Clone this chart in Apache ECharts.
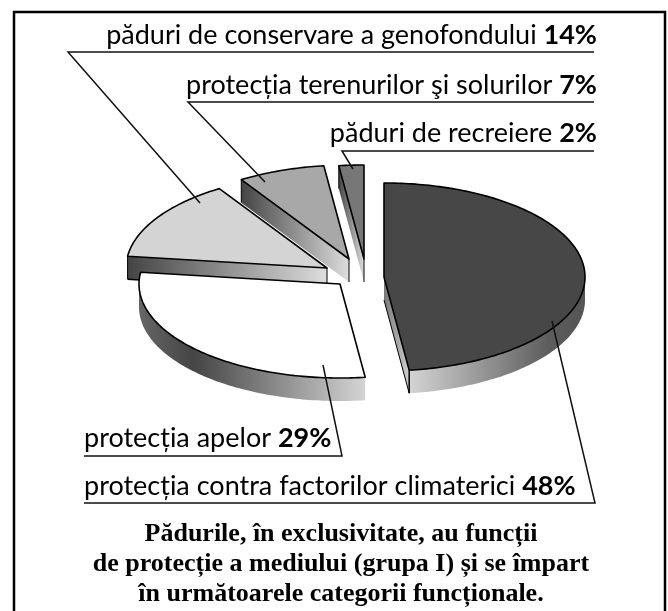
<!DOCTYPE html>
<html>
<head>
<meta charset="utf-8">
<style>
  html, body { margin: 0; padding: 0; background: #fff; }
  #chart { width: 668px; height: 611px; }
</style>
<script src="https://cdn.jsdelivr.net/npm/echarts@6/dist/echarts.min.js"></script>
</head>
<body>
<div id="chart"></div>
<script>
const categories = [
  'protecția contra factorilor climaterici',
  'protecția apelor',
  'păduri de conservare a genofondului',
  'protecția terenurilor şi solurilor',
  'păduri de recreiere'
]
const shares = [48, 29, 14, 7, 2]
const captionLines = [
  'Pădurile, în exclusivitate, au funcții',
  'de protecție a mediului (grupa I) și se împart',
  'în următoarele categorii funcționale.'
]

const RX = 201
const RY = 94
const DEPTH = 23
// exploded centre of every slice, and its top colour
const centers = [[384, 277], [340, 284], [327, 268], [349, 259], [364, 259]]
const topColors = ['#474747', '#ffffff', '#d4d4d4', '#a8a8a8', '#777777']
// back slices first so the nearer ones overlap them
const drawOrder = [4, 3, 2, 1, 0]
const labelFont = 'Lato, sans-serif'

function shade(x0, x1, stops) {
  return new echarts.graphic.LinearGradient(x0, 0, x1, 0, stops.map(s => ({
    offset: s[0], color: s[1]
  })))
}

function rim(c, deg) {
  const a = deg * Math.PI / 180
  return [c[0] + RX * Math.sin(a), c[1] - RY * Math.cos(a)]
}

function arc(c, from, to) {
  const pts = []
  const steps = Math.max(2, Math.ceil(to - from))
  for (let i = 0; i <= steps; i++) pts.push(rim(c, from + (to - from) * i / steps))
  return pts
}

function down(pts) {
  return pts.map(p => [p[0], p[1] + DEPTH])
}

function poly(points, fill, stroke) {
  return {
    type: 'polygon',
    shape: { points },
    style: { fill, stroke: stroke || null, lineWidth: 1.6, lineJoin: 'round' }
  }
}

function line(points, width) {
  return {
    type: 'polyline',
    shape: { points },
    style: { fill: null, stroke: '#000', lineWidth: width || 1.5 }
  }
}

function startAngle(idx) {
  let sum = 0
  for (let i = 0; i < idx; i++) sum += shares[i]
  return sum * 3.6
}

function renderSlice(params, api) {
  const idx = api.value(1)
  const c = centers[idx]
  const from = startAngle(idx)
  const to = from + api.value(0) * 3.6
  const kids = []

  if (idx === 0) {
    // front rim from the rightmost point round to the cut, and the cut face
    const edge = arc(c, 90, to)
    const p = rim(c, to)
    kids.push(poly(edge.concat(down(edge).reverse()), shade(1, 0, [[0, '#555555'], [0.2, '#5c5c5c'], [1, '#d4d4d4']])))
    kids.push(poly([c, p, [p[0], p[1] + DEPTH], [c[0], c[1] + DEPTH]], shade(0, 1, [[0, '#777777'], [1, '#d0d0d0']])))
    kids.push(line([p, [p[0], p[1] + DEPTH]]))
    kids.push(line([[c[0], c[1] + DEPTH], [p[0], p[1] + DEPTH]], 1))
  } else if (idx === 1) {
    const edge = arc(c, from, 270)
    kids.push(poly(edge.concat(down(edge).reverse()), shade(1, 0, [[0, '#d4d4d4'], [0.76, '#454545'], [1, '#666666']])))
  } else {
    // front cut face, running from the outer rim in to the centre
    const p = rim(c, from)
    kids.push(poly([p, c, [c[0], c[1] + DEPTH], [p[0], p[1] + DEPTH]], shade(0, 1, [[0, '#444444'], [1, '#dddddd']])))
    kids.push(line([p, [p[0], p[1] + DEPTH]], 1))
    kids.push(line([c, [c[0], c[1] + DEPTH]], 1))
    if (idx === 2) kids.push(line([[p[0], p[1] + DEPTH], [c[0], c[1] + DEPTH]], 1.5))
  }

  kids.push(poly([c].concat(arc(c, from, to)), topColors[idx], '#000'))
  return { type: 'group', children: kids }
}

// label position, underline and leader line, drawn after the slices
const labelRows = [
  { idx: 2, right: 597, base: 50, lineEnd: 594, lineY: 52, lineX: 68, target: [200, 203] },
  { idx: 3, right: 597, base: 100, lineEnd: 594, lineY: 102, lineX: 188, target: [265, 182] },
  { idx: 4, right: 597, base: 148, lineEnd: 594, lineY: 151, lineX: 342, target: [353, 169] },
  { idx: 1, left: 84, base: 453, lineEnd: 84, lineY: 456, lineX: 342, target: [323, 365], fromLeft: true },
  { idx: 0, left: 84, base: 501, lineEnd: 84, lineY: 503, lineX: 595, target: [552, 321], fromLeft: true }
]

function labelGraphics() {
  const items = []
  labelRows.forEach(r => {
    const far = r.fromLeft ? r.left : r.right
    items.push({
      type: 'polyline',
      z: 10,
      shape: { points: [[r.lineEnd, r.lineY], [r.lineX, r.lineY], r.target] },
      style: { fill: null, stroke: '#111', lineWidth: 1.5 }
    })
    items.push({
      type: 'text',
      z: 11,
      x: far,
      y: r.base,
      style: {
        text: '{n|' + categories[r.idx] + ' }{b|' + shares[r.idx] + '%}',
        align: r.fromLeft ? 'left' : 'right',
        verticalAlign: 'bottom',
        rich: {
          n: { font: '27px ' + labelFont, fill: '#000', lineHeight: 30 },
          b: { font: 'bold 27px ' + labelFont, fill: '#000', lineHeight: 30 }
        }
      }
    })
  })
  captionLines.forEach((t, i) => {
    items.push({
      type: 'text',
      z: 11,
      x: 341,
      y: 534 + i * 30,
      style: {
        text: t,
        align: 'center',
        verticalAlign: 'middle',
        font: 'bold 26px "Liberation Serif", serif',
        fill: '#000'
      }
    })
  })
  items.push({
    type: 'polyline',
    z: 12,
    shape: { points: [[14, 611], [14, 12], [665, 12], [665, 611]] },
    style: { fill: null, stroke: '#000', lineWidth: 2.5 }
  })
  return items
}

const chart = echarts.init(document.getElementById('chart'), null, { renderer: 'canvas' })
chart.setOption({
  animation: false,
  backgroundColor: '#fff',
  xAxis: { show: false, type: 'category', data: categories },
  yAxis: { show: false, type: 'value', min: 0, max: 100 },
  grid: { left: 0, right: 0, top: 0, bottom: 0 },
  graphic: labelGraphics(),
  series: [{
    type: 'custom',
    renderItem: renderSlice,
    encode: { y: 0 },
    data: drawOrder.map(i => [shares[i], i]),
    silent: true,
    z: 2
  }]
})
</script>
</body>
</html>
